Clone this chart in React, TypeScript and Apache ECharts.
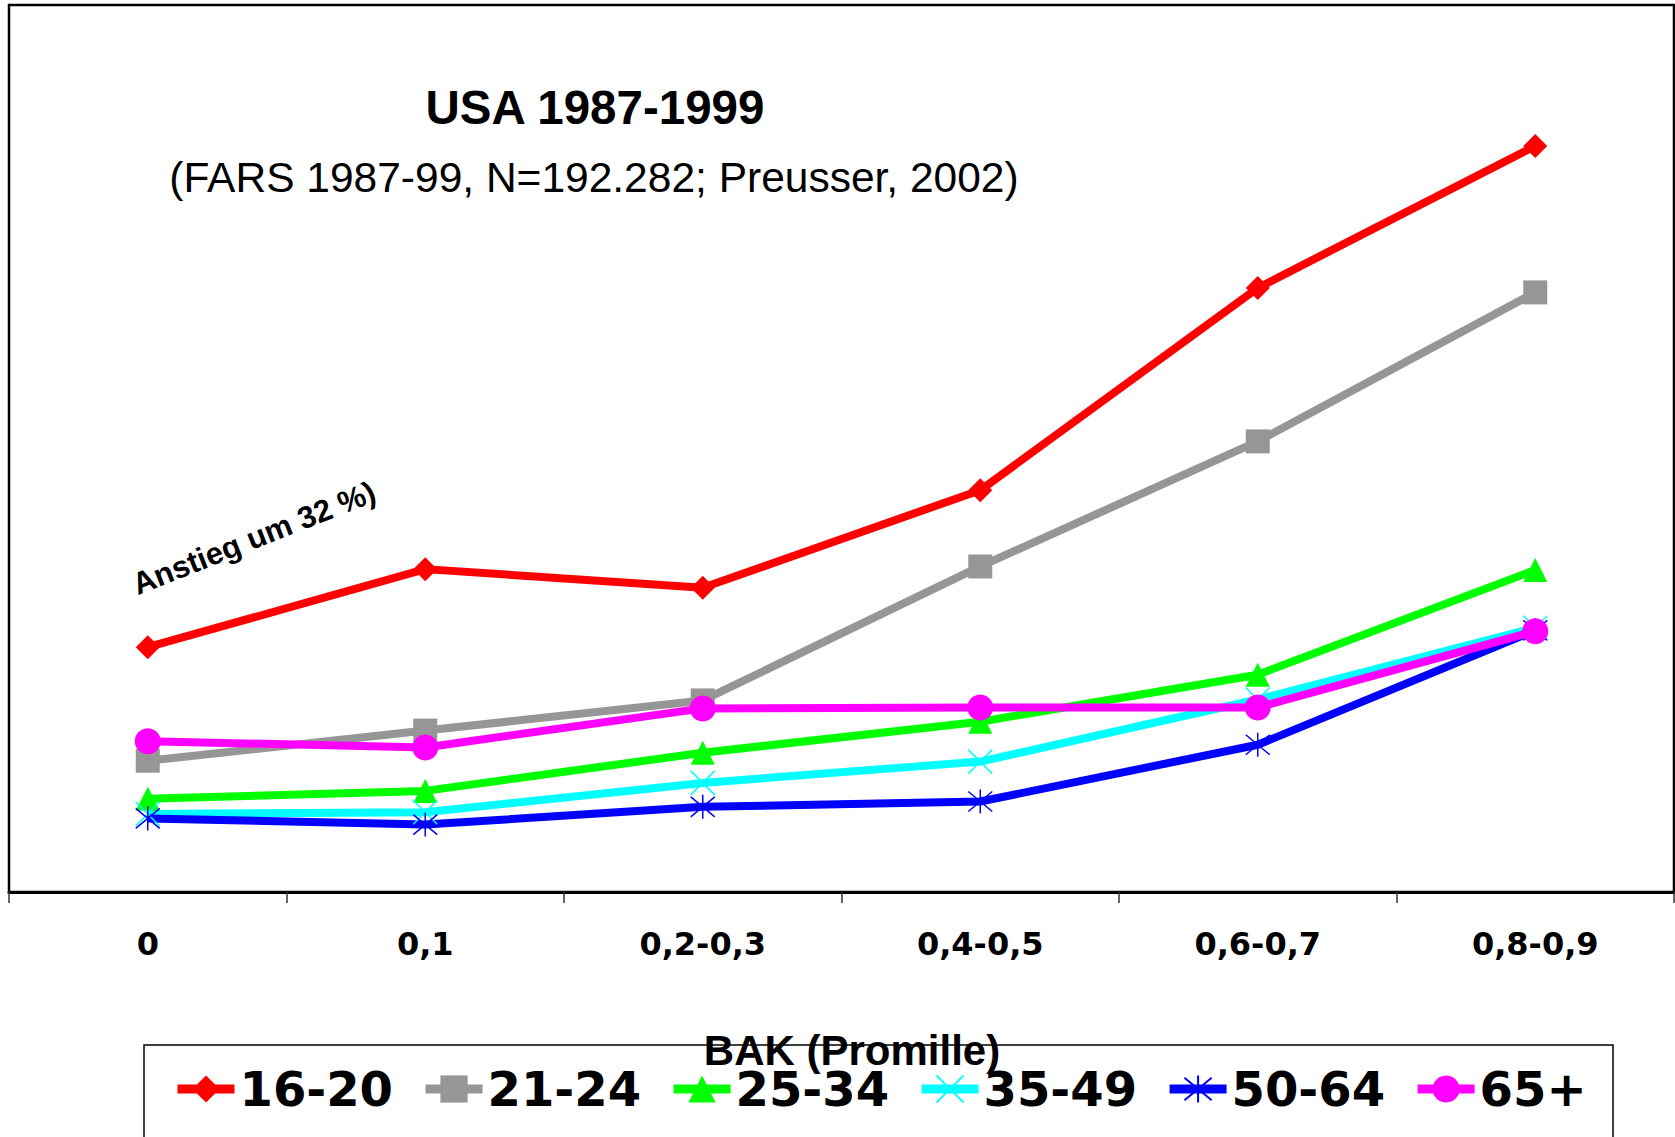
import React, { useEffect, useRef } from "react";
import * as echarts from "echarts";

const categories = ["0", "0,1", "0,2-0,3", "0,4-0,5", "0,6-0,7", "0,8-0,9"];
const seriesNames = ["16-20", "21-24", "25-34", "35-49", "50-64", "65+"];
const s1620 = [2.76, 3.64, 3.43, 4.53, 6.81, 8.41];
const s2124 = [1.48, 1.82, 2.16, 3.67, 5.08, 6.76];
const s2534 = [1.05, 1.14, 1.57, 1.92, 2.45, 3.63];
const s3549 = [0.88, 0.9, 1.23, 1.47, 2.17, 2.98];
const s5064 = [0.83, 0.76, 0.96, 1.02, 1.66, 2.95];
const s65 = [1.7, 1.63, 2.07, 2.08, 2.08, 2.94];
const titleText = "USA 1987-1999";
const subtitleText = "(FARS 1987-99, N=192.282; Preusser, 2002)";
const noteText = "Anstieg um 32 %)";
const axisName = "BAK (Promille)";

const CROSS = "path://M0,0L20,20M20,0L0,20";
const STAR = "path://M0,0L20,20M20,0L0,20M10,-2L10,22";

export default function App() {
  const ref = useRef<HTMLDivElement>(null);
  useEffect(() => {
    if (!ref.current) return;
    const chart = echarts.init(ref.current, null, { renderer: "svg" });
    const mk = (
      name: string,
      data: number[],
      color: string,
      symbol: string,
      symbolSize: number,
      stroke?: boolean
    ) => ({
      name,
      type: "line",
      data,
      symbol,
      symbolSize,
      showSymbol: true,
      lineStyle: { color, width: 8 },
      itemStyle: stroke
        ? { color, borderColor: color, borderWidth: 1.5, opacity: 1 }
        : { color, borderWidth: 0 },
      emphasis: { disabled: true },
    });
    chart.setOption({
      animation: false,
      backgroundColor: "#ffffff",
      grid: {
        left: 9,
        right: 1,
        top: 5,
        bottom: 245,
        show: true,
        borderColor: "#000",
        borderWidth: 2.5,
        containLabel: false,
      },
      xAxis: {
        type: "category",
        data: categories,
        boundaryGap: true,
        axisLine: { show: true, lineStyle: { color: "#000", width: 3 } },
        axisTick: { show: true, length: 11, lineStyle: { color: "#333", width: 1.5 } },
        axisLabel: {
          margin: 36,
          fontFamily: "DejaVu Sans",
          fontWeight: "bold",
          fontSize: 32,
          color: "#000",
        },
      },
      yAxis: {
        type: "value",
        min: 0,
        max: 10,
        show: false,
        splitLine: { show: false },
      },
      legend: {
        data: seriesNames,
        left: 168,
        top: 1060,
        itemWidth: 57,
        itemHeight: 34,
        itemGap: 28,
        lineStyle: { width: 9 },
        textStyle: {
          fontFamily: "DejaVu Sans",
          fontWeight: "bold",
          fontSize: 48,
          color: "#000",
        },
      },
      graphic: [
        {
          type: "rect",
          shape: { x: 144, y: 1045, width: 1469, height: 120 },
          style: { fill: "none", stroke: "#000", lineWidth: 1.5 },
          z: 0,
        },
        {
          type: "text",
          x: 852,
          y: 1050,
          z: 10,
          style: {
            text: axisName,
            fontFamily: "Liberation Sans",
            fontWeight: "bold",
            fontSize: 42,
            fill: "#000",
            align: "center",
            verticalAlign: "middle",
          },
        },
        {
          type: "text",
          x: 595,
          y: 107,
          style: {
            text: titleText,
            fontFamily: "Liberation Sans",
            fontWeight: "bold",
            fontSize: 47.5,
            fill: "#000",
            align: "center",
            verticalAlign: "middle",
          },
        },
        {
          type: "text",
          x: 594,
          y: 177,
          style: {
            text: subtitleText,
            fontFamily: "Liberation Sans",
            fontSize: 42.5,
            fill: "#000",
            align: "center",
            verticalAlign: "middle",
          },
        },
        {
          type: "text",
          x: 254,
          y: 538,
          rotation: (21.5 * Math.PI) / 180,
          style: {
            text: noteText,
            fontFamily: "Liberation Sans",
            fontWeight: "bold",
            fontSize: 31,
            fill: "#000",
            align: "center",
            verticalAlign: "middle",
          },
        },
      ],
      series: [
        mk(seriesNames[0], s1620, "#FF0000", "diamond", 24),
        mk(seriesNames[1], s2124, "#969696", "rect", 24),
        mk(seriesNames[2], s2534, "#00FF00", "triangle", 24),
        mk(seriesNames[3], s3549, "#00FFFF", CROSS, 24, true),
        mk(seriesNames[4], s5064, "#0000FF", STAR, 24, true),
        mk(seriesNames[5], s65, "#FF00FF", "circle", 26),
      ],
    });
    return () => chart.dispose();
  }, []);
  return (
    <div
      ref={ref}
      style={{ position: "fixed", left: 0, top: 0, width: 1675, height: 1137 }}
    />
  );
}
